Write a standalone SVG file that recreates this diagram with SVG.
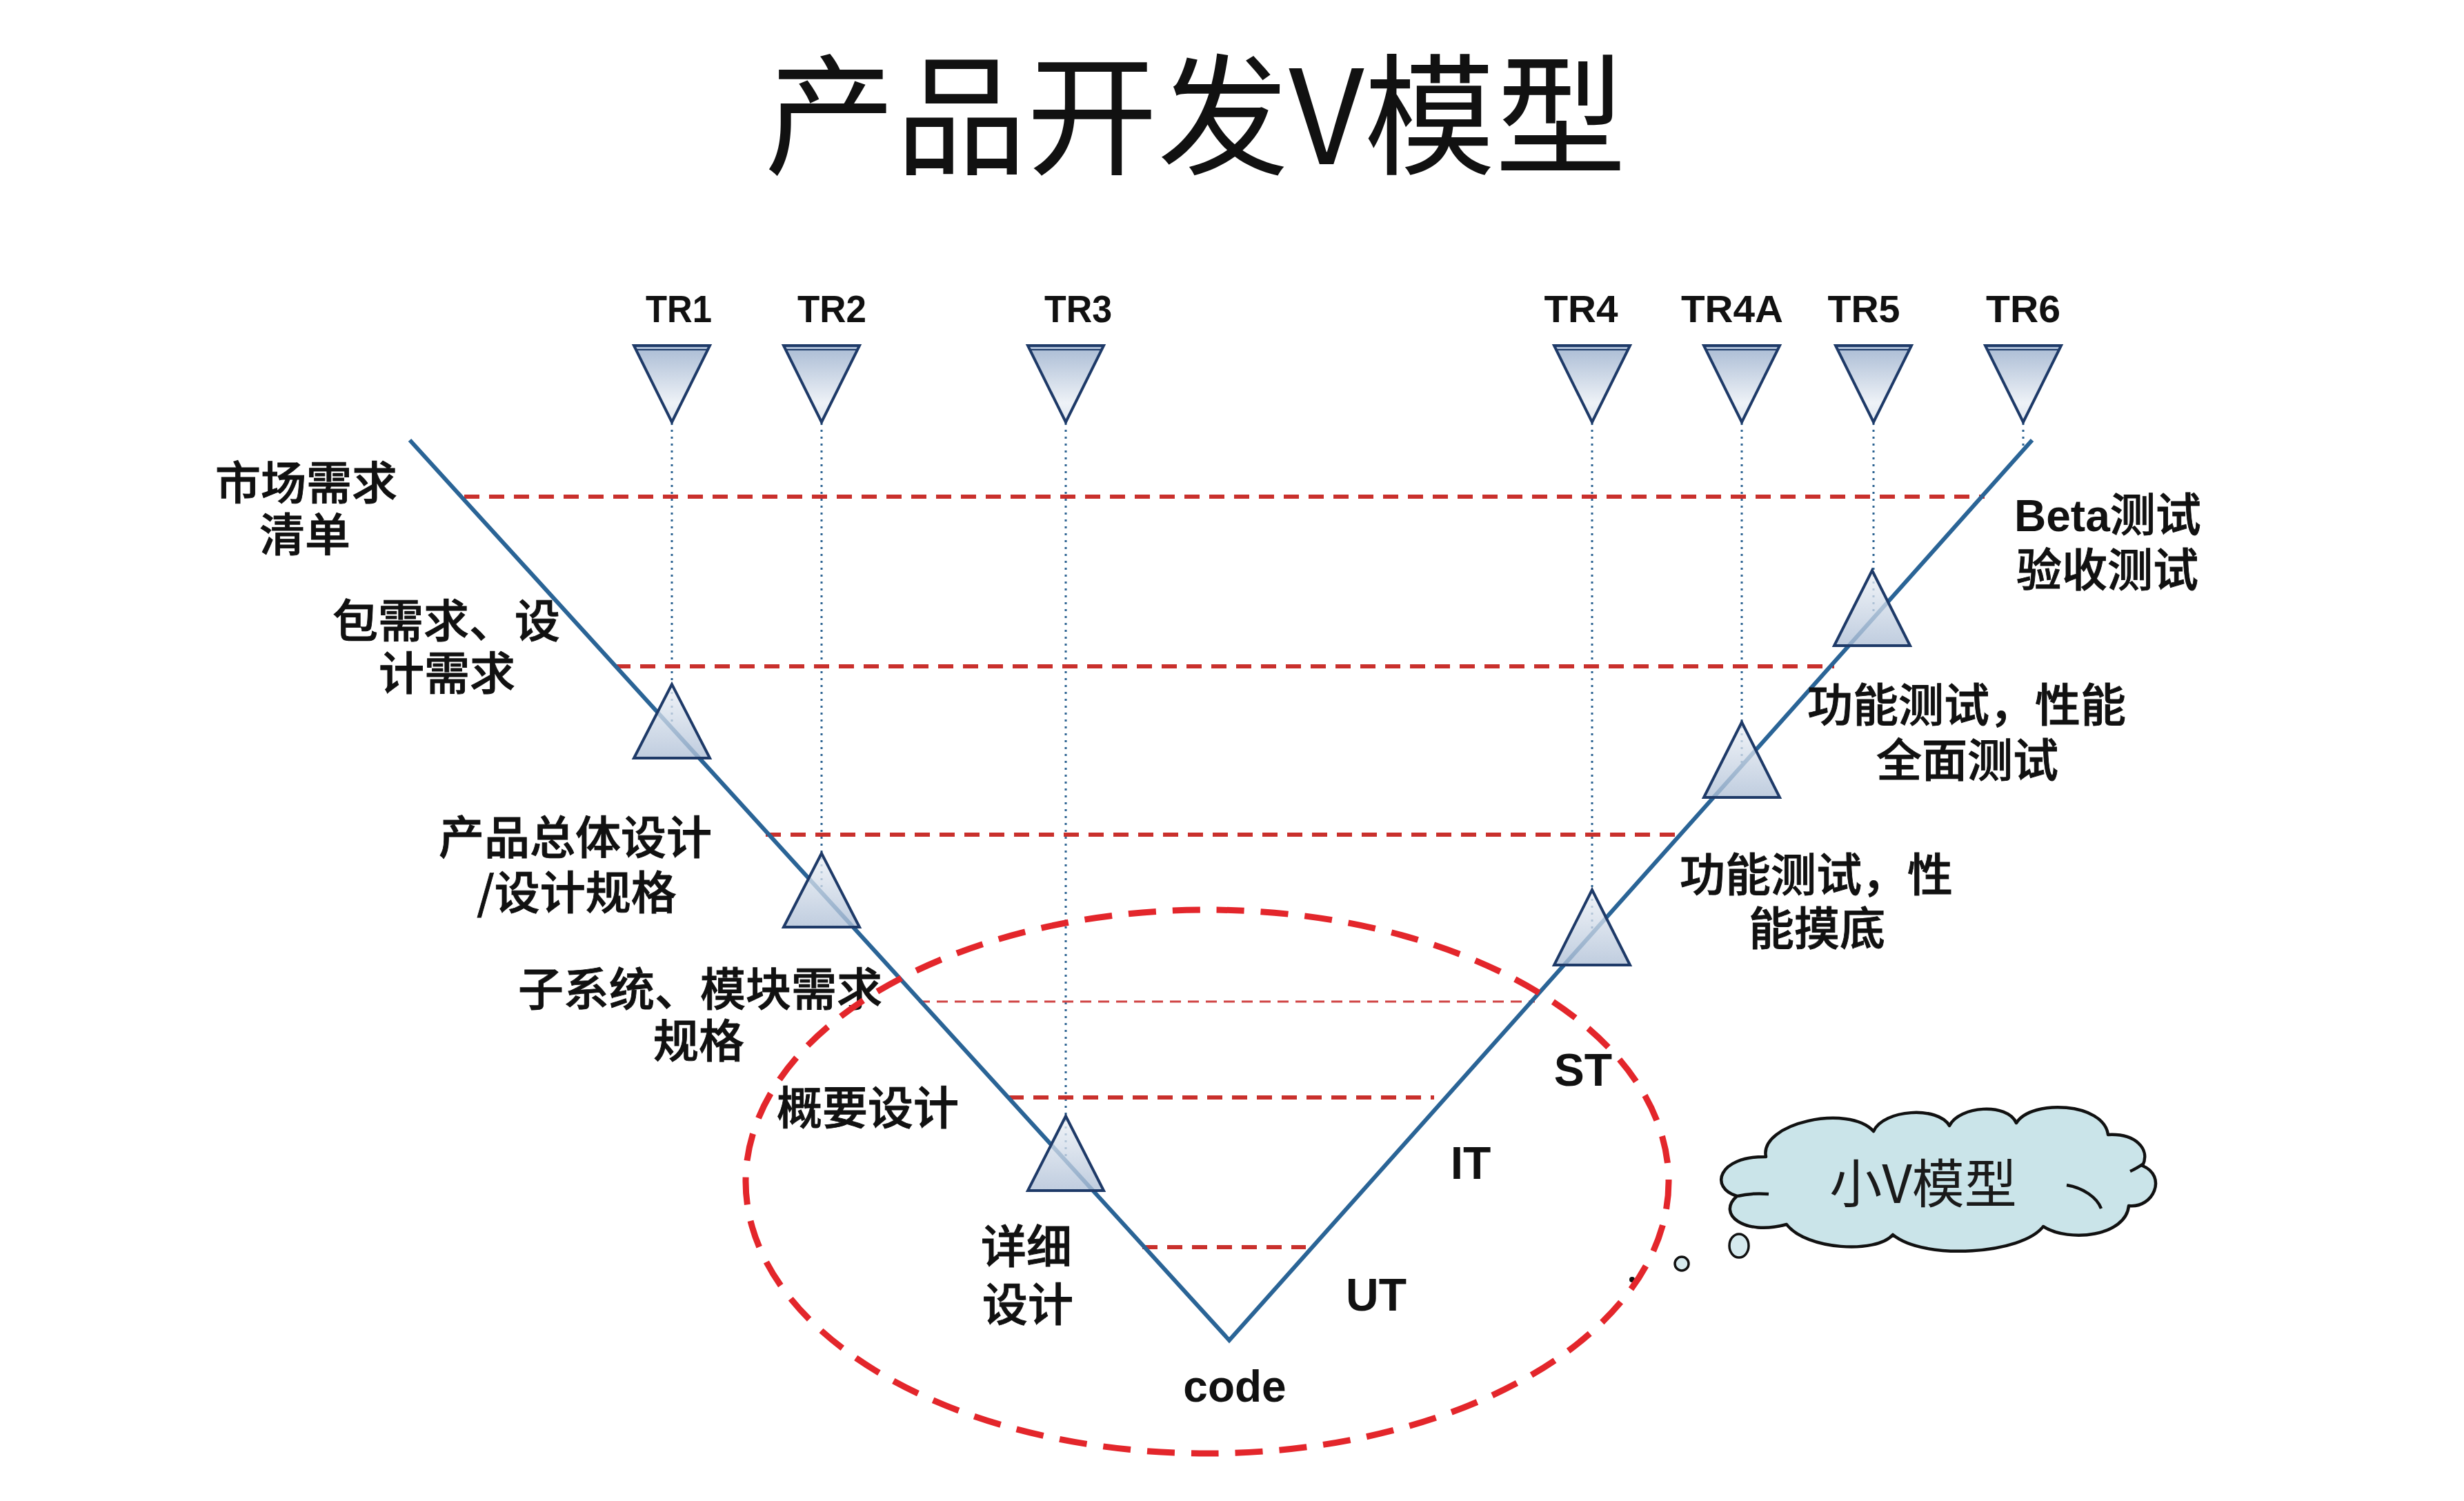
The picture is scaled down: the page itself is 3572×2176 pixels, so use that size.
<svg xmlns="http://www.w3.org/2000/svg" width="3572" height="2176" viewBox="0 0 3572 2176">
<defs>
<linearGradient id="gDown" x1="0" y1="0" x2="0" y2="1">
<stop offset="0" stop-color="#a9bbd4"/>
<stop offset="0.75" stop-color="#eef2f7"/>
<stop offset="1" stop-color="#dfe6f0"/>
</linearGradient>
<linearGradient id="gUp" x1="0" y1="0" x2="0" y2="1">
<stop offset="0" stop-color="#eef2f7"/>
<stop offset="1" stop-color="#aebfd6"/>
</linearGradient>
<style>
.cjk{font-family:"Noto Sans CJK SC","Noto Sans",sans-serif;font-size:66px;font-weight:500;fill:#111;stroke:#111;stroke-width:0.9;text-anchor:middle}
.lat{font-family:"Liberation Sans",Arial,sans-serif;font-weight:bold;fill:#111;text-anchor:middle}
.tr{font-family:"Liberation Sans",Arial,sans-serif;font-weight:bold;font-size:56px;fill:#111;text-anchor:middle}
.dot{stroke:#2c6391;stroke-width:3;stroke-dasharray:3 7;fill:none}
.red{stroke:#c9302c;stroke-width:6;stroke-dasharray:22 14;fill:none}
.redthin{stroke:#d04444;stroke-width:3;stroke-dasharray:16 10;fill:none}
.down{fill:url(#gDown);stroke:#1e3a68;stroke-width:4;stroke-linejoin:miter}
.up{fill:url(#gUp);fill-opacity:0.78;stroke:#1e3a68;stroke-width:4}
</style>
</defs>
<rect width="3572" height="2176" fill="#ffffff"/>

<text id="title" x="1733" y="238" style="font-family:'Noto Sans CJK SC','Noto Sans',sans-serif;font-size:190px;font-weight:400;fill:#111;text-anchor:middle">产品开发V模型</text>

<g id="connectors">
<g id="dotted">
<line class="dot" x1="974" y1="613" x2="974" y2="1055"/>
<line class="dot" x1="1191" y1="613" x2="1191" y2="1294"/>
<line class="dot" x1="1545" y1="613" x2="1545" y2="1683"/>
<line class="dot" x1="2308" y1="613" x2="2308" y2="1354"/>
<line class="dot" x1="2525" y1="613" x2="2525" y2="1110"/>
<line class="dot" x1="2716" y1="613" x2="2716" y2="897"/>
<line class="dot" x1="2933" y1="613" x2="2933" y2="650"/>
</g>
<g id="levels">
<line class="red" x1="673" y1="720" x2="2877" y2="720"/>
<line class="red" x1="892" y1="966" x2="2659" y2="966"/>
<line class="red" x1="1110" y1="1210" x2="2435" y2="1210"/>
<line class="redthin" x1="1332" y1="1452" x2="2225" y2="1452"/>
<line class="red" x1="1462" y1="1591" x2="2079" y2="1591"/>
<line class="red" x1="1656" y1="1808" x2="1893" y2="1808"/>
</g>
<polyline id="vline" points="594,638 1782,1943 2946,638" fill="none" stroke="#2a6496" stroke-width="6" stroke-linejoin="miter"/>
</g>

<g id="tr1"><text class="tr" x="984" y="467" textLength="96" lengthAdjust="spacingAndGlyphs">TR1</text>
<polygon class="down" points="919,501 1029,501 974,612"/><line x1="922" y1="507" x2="1026" y2="507" stroke="#1e3a68" stroke-width="2"/>
<polygon class="up" points="974,992 919,1099 1029,1099"/></g>
<g id="tr2"><text class="tr" x="1206" y="467" textLength="100" lengthAdjust="spacingAndGlyphs">TR2</text>
<polygon class="down" points="1136,501 1246,501 1191,612"/><line x1="1139" y1="507" x2="1243" y2="507" stroke="#1e3a68" stroke-width="2"/>
<polygon class="up" points="1191,1237 1136,1344 1246,1344"/></g>
<g id="tr3"><text class="tr" x="1563" y="467" textLength="98" lengthAdjust="spacingAndGlyphs">TR3</text>
<polygon class="down" points="1490,501 1600,501 1545,612"/><line x1="1493" y1="507" x2="1597" y2="507" stroke="#1e3a68" stroke-width="2"/>
<polygon class="up" points="1545,1618 1490,1726 1600,1726"/></g>
<g id="tr4"><text class="tr" x="2292" y="467" textLength="107" lengthAdjust="spacingAndGlyphs">TR4</text>
<polygon class="down" points="2253,501 2363,501 2308,612"/><line x1="2256" y1="507" x2="2360" y2="507" stroke="#1e3a68" stroke-width="2"/>
<polygon class="up" points="2308,1290 2253,1399 2363,1399"/></g>
<g id="tr4a"><text class="tr" x="2511" y="467" textLength="148" lengthAdjust="spacingAndGlyphs">TR4A</text>
<polygon class="down" points="2470,501 2580,501 2525,612"/><line x1="2473" y1="507" x2="2577" y2="507" stroke="#1e3a68" stroke-width="2"/>
<polygon class="up" points="2525,1047 2470,1156 2580,1156"/></g>
<g id="tr5"><text class="tr" x="2702" y="467" textLength="105" lengthAdjust="spacingAndGlyphs">TR5</text>
<polygon class="down" points="2661,501 2771,501 2716,612"/><line x1="2664" y1="507" x2="2768" y2="507" stroke="#1e3a68" stroke-width="2"/>
<polygon class="up" points="2714,827 2659,936 2769,936"/></g>
<g id="tr6"><text class="tr" x="2933" y="467" textLength="108" lengthAdjust="spacingAndGlyphs">TR6</text>
<polygon class="down" points="2878,501 2988,501 2933,612"/><line x1="2881" y1="507" x2="2985" y2="507" stroke="#1e3a68" stroke-width="2"/></g>

<g id="left-labels">
<text class="cjk" x="444" y="724">市场需求</text>
<text class="cjk" x="442" y="799">清单</text>
<text class="cjk" x="647" y="924">包需求、设</text>
<text class="cjk" x="648" y="1000">计需求</text>
<text class="cjk" x="834" y="1238">产品总体设计</text>
<text class="cjk" x="836" y="1318">/设计规格</text>
<text class="cjk" x="1015" y="1458">子系统、模块需求</text>
<text class="cjk" x="1013" y="1533">规格</text>
<text class="cjk" x="1258" y="1630">概要设计</text>
<text class="cjk" x="1488" y="1831">详细</text>
<text class="cjk" x="1490" y="1915">设计</text>
</g>
<g id="bottom-labels">
<text class="lat" x="1790" y="2032" style="font-size:64px">code</text>
<text class="lat" x="1995" y="1900" style="font-size:66px">UT</text>
<text class="lat" x="2132" y="1709" style="font-size:66px">IT</text>
<text class="lat" x="2295" y="1574" style="font-size:66px">ST</text>
</g>
<g id="right-labels">
<text class="cjk" x="2633" y="1292">功能测试，性</text>
<text class="cjk" x="2634" y="1370">能摸底</text>
<text class="cjk" x="2851" y="1046">功能测试，性能</text>
<text class="cjk" x="2852" y="1126">全面测试</text>
<text class="cjk" x="2920" y="770" style="text-anchor:start"><tspan style="font-family:'Liberation Sans',Arial,sans-serif;font-weight:bold;font-size:64px;stroke:none">Beta</tspan>测试</text>
<text class="cjk" x="2923" y="850" style="text-anchor:start">验收测试</text>
</g>

<g id="cloud">
<path d="M2560,1677 C2550,1628 2680,1600 2716,1640 C2730,1608 2810,1603 2826,1632 C2840,1603 2910,1598 2923,1628 C2945,1593 3050,1598 3056,1645 C3095,1643 3118,1665 3106,1690 C3142,1705 3122,1752 3086,1748 C3082,1792 3000,1802 2962,1778 C2932,1818 2790,1828 2744,1790 C2720,1818 2618,1812 2590,1775 C2528,1792 2488,1760 2518,1734 C2478,1722 2490,1676 2560,1677 Z" fill="#cae4e9" stroke="#111" stroke-width="4.5" stroke-linejoin="round"/>
<path d="M2996,1718 C3020,1722 3040,1736 3046,1752" fill="none" stroke="#111" stroke-width="4.5"/>
<path d="M2519,1734 C2535,1730 2550,1730 2564,1731" fill="none" stroke="#111" stroke-width="4.5"/>
<path d="M3088,1698 C3095,1695 3101,1691 3106,1688" fill="none" stroke="#111" stroke-width="4.5"/>
<text x="2788" y="1744" style="font-family:'Noto Sans CJK SC','Noto Sans',sans-serif;font-size:76px;font-weight:400;fill:#1a1a1a;text-anchor:middle">小V模型</text>
<ellipse cx="2521" cy="1806" rx="14" ry="17" fill="#d6eaee" stroke="#111" stroke-width="3.5"/>
<circle cx="2438" cy="1832" r="10" fill="#d6eaee" stroke="#111" stroke-width="3.5"/>
<circle cx="2366" cy="1855" r="4" fill="#111"/>
</g>

<ellipse id="small-v" cx="1750" cy="1713" rx="669" ry="394" fill="none" stroke="#e3262b" stroke-width="9" stroke-dasharray="40 24"/>
</svg>
